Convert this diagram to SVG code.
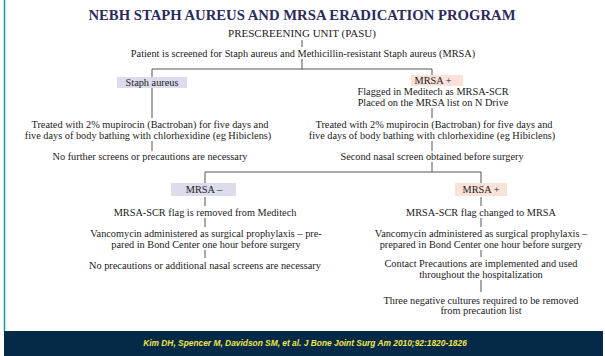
<svg xmlns="http://www.w3.org/2000/svg" width="605" height="356" viewBox="0 0 605 356">
<style>
.t{font-family:"Liberation Serif","Times New Roman",serif;font-size:10.3px;fill:#1a1a1a;text-anchor:middle}
.ttl{font-family:"Liberation Serif","Times New Roman",serif;font-size:14.7px;font-weight:bold;fill:#2b2b5e;text-anchor:middle}
.sub{font-family:"Liberation Serif","Times New Roman",serif;font-size:11px;fill:#1a1a1a;text-anchor:middle}
.cn{stroke:#555;stroke-width:1;fill:none}
.lav{fill:#dcdcec}
.sal{fill:#fbe2d8}
.cite{font-family:"Liberation Sans",Arial,sans-serif;font-size:8.4px;font-weight:bold;font-style:italic;fill:#f2e64a;text-anchor:middle}
</style>
<rect width="605" height="356" fill="#fff"/>
<line x1="4.5" y1="0" x2="4.5" y2="331" stroke="#0aa3a3" stroke-width="1.5"/>
<rect x="4" y="331" width="599" height="25" fill="#052a48"/>
<text class="cite" x="305" y="346">Kim DH, Spencer M, Davidson SM, et al. J Bone Joint Surg Am 2010;92:1820-1826</text>

<text class="ttl" x="302" y="20">NEBH STAPH AUREUS AND MRSA ERADICATION PROGRAM</text>

<g id="connectors">
<path class="cn" d="M302 40V47"/>
<path class="cn" d="M302 59V69M152 77V69H432V76"/>
<path class="cn" d="M152 87V118"/>
<path class="cn" d="M152 141V151"/>
<path class="cn" d="M432 108V118"/>
<path class="cn" d="M432 141V151"/>
<path class="cn" d="M432 162V172M205 183V172H481V183"/>
<path class="cn" d="M205 197V206"/>
<path class="cn" d="M205 218V227"/>
<path class="cn" d="M205 250V258"/>
<path class="cn" d="M481 197V206"/>
<path class="cn" d="M481 218V227"/>
<path class="cn" d="M481 250V257"/>
<path class="cn" d="M481 280V292"/>
</g>

<g id="pasu"><text class="sub" x="302" y="37">PRESCREENING UNIT (PASU)</text></g>
<g id="screen"><text class="t" x="303" y="57">Patient is screened for Staph aureus and Methicillin-resistant Staph aureus (MRSA)</text></g>

<g id="staph"><rect class="lav" x="117" y="77" width="70" height="11"/><text class="t" x="152" y="85.5">Staph aureus</text></g>
<g id="mrsapos1"><rect class="sal" x="411" y="75" width="52" height="11"/><text class="t" x="433" y="83.5">MRSA +</text>
<text class="t" x="433" y="95">Flagged in Meditech as MRSA-SCR</text>
<text class="t" x="433" y="105.5">Placed on the MRSA list on N Drive</text></g>

<g id="treatL"><text class="t" x="150" y="128">Treated with 2% mupirocin (Bactroban) for five days and</text>
<text class="t" x="148" y="138.5">five days of body bathing with chlorhexidine (eg Hibiclens)</text></g>
<g id="noFurther"><text class="t" x="150" y="160">No further screens or precautions are necessary</text></g>

<g id="treatR"><text class="t" x="434" y="128">Treated with 2% mupirocin (Bactroban) for five days and</text>
<text class="t" x="432" y="138.5">five days of body bathing with chlorhexidine (eg Hibiclens)</text></g>
<g id="second"><text class="t" x="432" y="160">Second nasal screen obtained before surgery</text></g>

<g id="mrsaneg"><rect class="lav" x="171" y="183" width="65" height="13"/><text class="t" x="204" y="192.5">MRSA –</text></g>
<g id="mrsapos2"><rect class="sal" x="455" y="183" width="52" height="13"/><text class="t" x="481" y="192.5">MRSA +</text></g>

<g id="removed"><text class="t" x="205" y="216">MRSA-SCR flag is removed from Meditech</text></g>
<g id="vancoL"><text class="t" x="206" y="237">Vancomycin administered as surgical prophylaxis – pre-</text>
<text class="t" x="206" y="247.5">pared in Bond Center one hour before surgery</text></g>
<g id="noPrec"><text class="t" x="205" y="269">No precautions or additional nasal screens are necessary</text></g>

<g id="changed"><text class="t" x="481" y="216">MRSA-SCR flag changed to MRSA</text></g>
<g id="vancoR"><text class="t" x="481" y="237">Vancomycin administered as surgical prophylaxis –</text>
<text class="t" x="481" y="247.5">prepared in Bond Center one hour before surgery</text></g>
<g id="contact"><text class="t" x="481" y="267">Contact Precautions are implemented and used</text>
<text class="t" x="481" y="277.5">throughout the hospitalization</text></g>
<g id="three"><text class="t" x="481" y="303.5">Three negative cultures required to be removed</text>
<text class="t" x="481" y="314">from precaution list</text></g>
</svg>
